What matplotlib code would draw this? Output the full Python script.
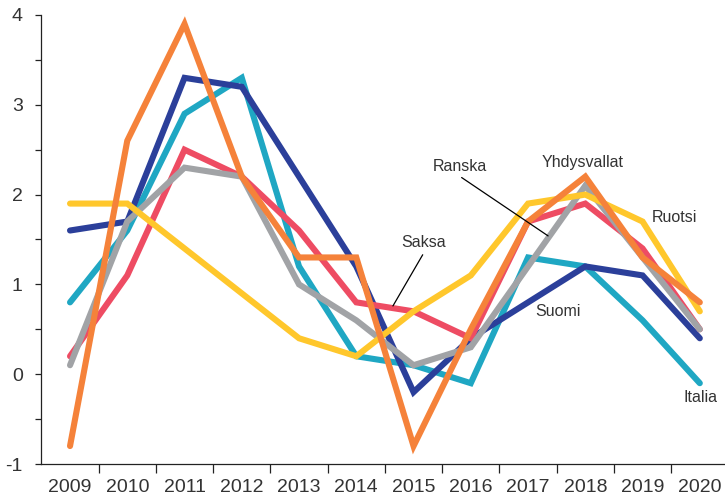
import matplotlib.pyplot as plt
from matplotlib.ticker import FixedLocator, NullFormatter

# Data (annual change, %)
years = ['2009', '2010', '2011', '2012', '2013', '2014',
         '2015', '2016', '2017', '2018', '2019', '2020']

italia = [0.8, 1.6, 2.9, 3.3, 1.2, 0.2, 0.1, -0.1, 1.3, 1.2, 0.6, -0.1]
suomi = [1.6, 1.7, 3.3, 3.2, 2.2, 1.2, -0.2, 0.4, 0.8, 1.2, 1.1, 0.4]
saksa = [0.2, 1.1, 2.5, 2.2, 1.6, 0.8, 0.7, 0.4, 1.7, 1.9, 1.4, 0.5]
ranska = [0.1, 1.7, 2.3, 2.2, 1.0, 0.6, 0.1, 0.3, 1.2, 2.1, 1.3, 0.5]
ruotsi = [1.9, 1.9, 1.4, 0.9, 0.4, 0.2, 0.7, 1.1, 1.9, 2.0, 1.7, 0.7]
yhdysvallat = [-0.8, 2.6, 3.9, 2.2, 1.3, 1.3, -0.8, 0.5, 1.7, 2.2, 1.3, 0.8]

# draw order bottom -> top
series = [italia, suomi, saksa, ranska, ruotsi, yhdysvallat]
colors = ['#1fa7c3', '#2b3f9a', '#ee4c63', '#a1a3a6', '#ffc72c', '#f5823a']

plt.rcParams['font.family'] = ['Liberation Sans', 'DejaVu Sans']
txt = '#333333'

fig = plt.figure(figsize=(7.25, 4.96), dpi=100)
ax = fig.add_axes([0.0571, 0.0645, 0.9429, 0.9053])

x = list(range(len(years)))
for vals, c in zip(series, colors):
    ax.plot(x, vals, color=c, lw=4.4, solid_joinstyle='miter',
            solid_capstyle='round', clip_on=False)

ax.set_xlim(-0.5, 11.44)
ax.set_ylim(-1, 4)

for s in ['top', 'right']:
    ax.spines[s].set_visible(False)
for s in ['left', 'bottom']:
    ax.spines[s].set_linewidth(0.9)
    ax.spines[s].set_color('#222222')

# y axis: labels on integers, ticks every 0.5
ax.set_yticks([-1, 0, 1, 2, 3, 4])
ax.set_yticklabels(['-1', '0', '1', '2', '3', '4'])
ax.yaxis.set_minor_locator(FixedLocator([-0.5, 0.5, 1.5, 2.5, 3.5]))
ax.tick_params(axis='y', which='both', direction='out', length=4.5,
               width=0.9, color='#222222', pad=9, labelsize=14, labelcolor=txt)

# x axis: ticks between years, labels centred
ax.xaxis.set_major_locator(FixedLocator([i + 0.5 for i in range(11)]))
ax.xaxis.set_major_formatter(NullFormatter())
ax.set_xticks(x, minor=True)
ax.set_xticklabels(years, minor=True)
ax.tick_params(axis='x', which='major', direction='out', length=6.5,
               width=0.9, color='#222222')
ax.tick_params(axis='x', which='minor', length=0, pad=11,
               labelsize=14, labelcolor=txt)

# series labels
fs = 11.5
lead = dict(arrowstyle='-', color='black', lw=0.9, shrinkA=0, shrinkB=0)
ax.annotate('', xy=(8.35, 1.54), xytext=(6.84, 2.19), arrowprops=lead)
ax.annotate('', xy=(5.64, 0.76), xytext=(6.16, 1.33), arrowprops=lead)
ax.text(6.81, 2.31, 'Ranska', ha='center', va='center', fontsize=fs, color=txt)
ax.text(6.17, 1.47, 'Saksa', ha='center', va='center', fontsize=fs, color=txt)
ax.text(8.96, 2.36, 'Yhdysvallat', ha='center', va='center', fontsize=fs, color=txt)
ax.text(10.55, 1.75, 'Ruotsi', ha='center', va='center', fontsize=fs, color=txt)
ax.text(8.52, 0.70, 'Suomi', ha='center', va='center', fontsize=fs, color=txt)
ax.text(11.02, -0.26, 'Italia', ha='center', va='center', fontsize=fs, color=txt)

fig.savefig('out.png', dpi=100)
